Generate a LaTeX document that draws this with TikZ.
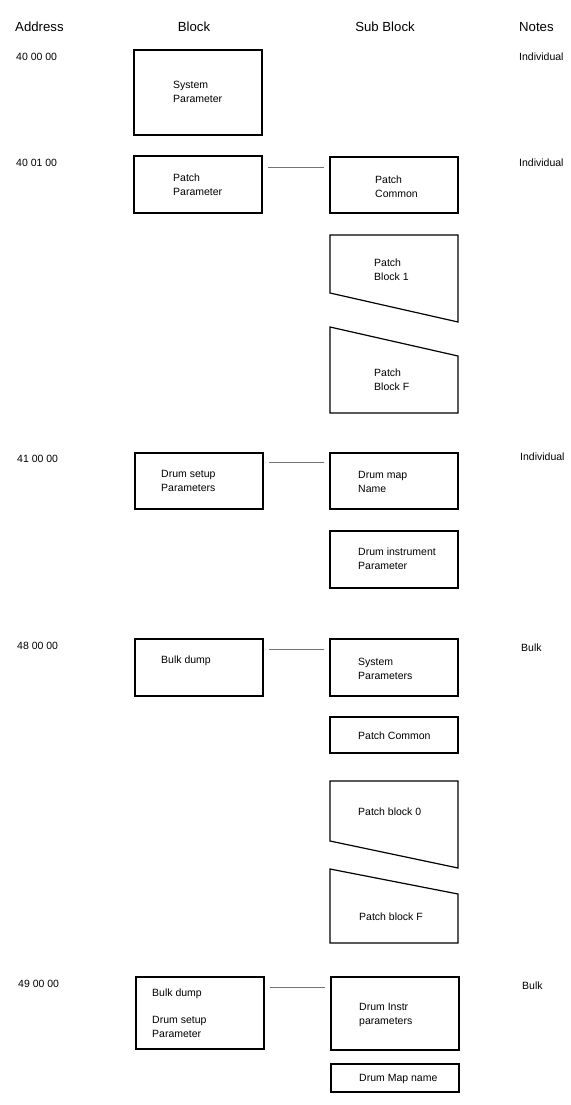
\documentclass[tikz,border=0pt]{standalone}
\usepackage{fontspec}
\setmainfont{Liberation Sans}
\usetikzlibrary{positioning, calc}
\tikzset{
  blk/.style={
    rectangle, draw=black, line width=1.2pt, fill=white,
    minimum width=128pt, inner sep=0pt,
  },
  trap/.style={
    draw=black, line width=1.2pt, line join=miter,
  },
  txt/.style={
    anchor=west, align=left, inner sep=0pt,
    font=\fontsize{10.5}{14}\selectfont,
  },
  hdr/.style={
    inner sep=0pt, font=\fontsize{13.2}{15}\selectfont,
  },
  link/.style={
    line width=0.5pt, draw=black!55, shorten <=5pt, shorten >=5pt,
  },
}

\begin{document}
\begin{tikzpicture}[x=1pt, y=-1pt]

  \useasboundingbox (0,0) rectangle (570,1105);

  % column heads
  \node[hdr, anchor=west] (haddr)  at (15,27)  {Address};
  \node[hdr]              (hblock) at (194,27) {Block};
  \node[hdr]              (hsub)   at (385,27) {Sub Block};
  \node[hdr, anchor=west] (hnotes) at (519,27) {Notes};

  % addresses and notes
  \node[txt] (a1) at (16,57)  {40 00 00};
  \node[txt] (a2) at (16,163) {40 01 00};
  \node[txt] (a3) at (17,459) {41 00 00};
  \node[txt] (a4) at (17,646) {48 00 00};
  \node[txt] (a5) at (18,984) {49 00 00};

  \node[txt] (n1) at (519,57)  {Individual};
  \node[txt] (n2) at (519,163) {Individual};
  \node[txt] (n3) at (520,457) {Individual};
  \node[txt] (n4) at (521,648) {Bulk};
  \node[txt] (n5) at (522,986) {Bulk};

  % blocks
  \node[blk, minimum height=85pt] (sysparam)   at (198,92.5)  {};
  \node[blk, minimum height=57pt] (patchparam) at (198,184.5) {};
  \node[blk, minimum height=56pt] (drumsetup)  at (199,481)   {};
  \node[blk, minimum height=57pt] (bulkdump)   at (199,667.5) {};
  \node[blk, minimum height=72pt] (bulkdrum)   at (200,1013)  {};

  \node[txt] (sysparamt)   at (173,92)    {System\\Parameter};
  \node[txt] (patchparamt) at (173,184.5) {Patch\\Parameter};
  \node[txt] (drumsetupt)  at (161,480.5) {Drum setup\\Parameters};
  \node[txt] (bulkdumpt)   at (161,661)   {Bulk dump};
  \node[txt] (bulkdrumt)   at (152,1013.5)
    {Bulk dump\\[13pt]Drum setup\\Parameter};

  % sub blocks
  \node[blk, minimum height=56pt] (patchcom)  at (394,185)    {};
  \node[blk, minimum height=56pt] (drummap)   at (394,481)    {};
  \node[blk, minimum height=57pt] (druminst)  at (394,559.5)  {};
  \node[blk, minimum height=57pt] (sysparams) at (394,667.5)  {};
  \node[blk, minimum height=36pt] (patchcomb) at (394,735)    {};
  \node[blk, minimum height=73pt] (druminstr) at (395,1013.5) {};
  \node[blk, minimum height=28pt] (drummapn)  at (395,1078)   {};

  \draw[trap] (330,235) -- (458,235) -- (458,322) -- (330,293) -- cycle;
  \draw[trap] (330,327) -- (458,356) -- (458,413) -- (330,413) -- cycle;
  \draw[trap] (330,781) -- (458,781) -- (458,868) -- (330,841) -- cycle;
  \draw[trap] (330,869) -- (458,894) -- (458,943) -- (330,943) -- cycle;

  \node[txt] (patchcomt)  at (375,186.5)  {Patch\\Common};
  \node[txt] (patchb1t)   at (374,270)    {Patch\\Block 1};
  \node[txt] (patchbft)   at (374,380)    {Patch\\Block F};
  \node[txt] (drummapt)   at (358,482)    {Drum map\\Name};
  \node[txt] (druminstt)  at (358,558.5)  {Drum instrument\\Parameter};
  \node[txt] (sysparamst) at (358,669)    {System\\Parameters};
  \node[txt] (patchcombt) at (358,736)    {Patch Common};
  \node[txt] (patchb0t)   at (358,812)    {Patch block 0};
  \node[txt] (patchbfbt)  at (359,917)    {Patch block F};
  \node[txt] (druminstrt) at (359,1014.5) {Drum Instr\\parameters};
  \node[txt] (drummapnt)  at (359,1079)   {Drum Map name};

  % links
  \draw[link] ([yshift=-12pt]patchparam.north east)
    -- ([yshift=-12pt]patchparam.north east -| patchcom.west);
  \draw[link] ([yshift=-10pt]drumsetup.north east)
    -- ([yshift=-10pt]drumsetup.north east -| drummap.west);
  \draw[link] ([yshift=-11pt]bulkdump.north east)
    -- ([yshift=-11pt]bulkdump.north east -| sysparams.west);
  \draw[link] ([yshift=-11pt]bulkdrum.north east)
    -- ([yshift=-11pt]bulkdrum.north east -| druminstr.west);

\end{tikzpicture}
\end{document}
